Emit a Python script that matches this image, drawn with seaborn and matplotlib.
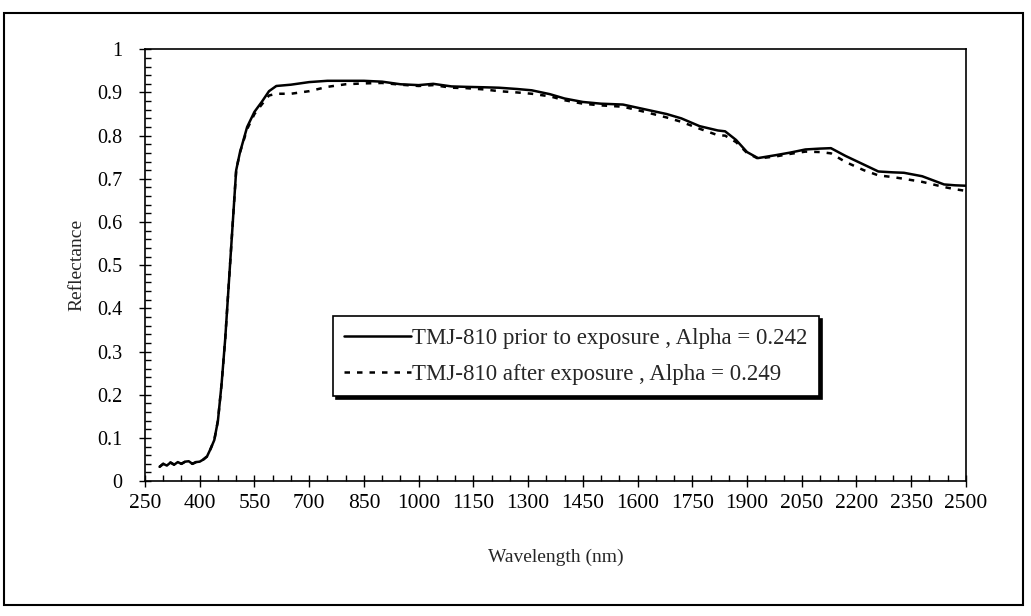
import numpy as np
import pandas as pd
import matplotlib
matplotlib.use("Agg")
import matplotlib.pyplot as plt
from matplotlib.patches import Rectangle
from matplotlib.ticker import MultipleLocator, FuncFormatter
import seaborn as sns

# Datos
wavelength = [290, 300, 310, 320, 330, 340, 350, 360, 370, 380, 390, 400, 410, 420,
              430, 440, 450, 460, 470, 480, 490, 500, 510, 530, 550, 570, 590, 610,
              650, 700, 750, 800, 850, 900, 950, 1000, 1040, 1090, 1130, 1180, 1220,
              1270, 1310, 1360, 1400, 1450, 1500, 1560, 1620, 1680, 1720, 1770, 1820,
              1840, 1870, 1900, 1930, 1980, 2020, 2060, 2100, 2130, 2170, 2220, 2260,
              2300, 2330, 2380, 2440, 2470, 2500]

refl_prior = [0.033, 0.040, 0.036, 0.043, 0.038, 0.044, 0.040, 0.045, 0.046, 0.040,
              0.044, 0.045, 0.050, 0.057, 0.075, 0.095, 0.140, 0.225, 0.330, 0.460,
              0.590, 0.720, 0.760, 0.820, 0.855, 0.878, 0.903, 0.915, 0.918, 0.924,
              0.927, 0.927, 0.927, 0.925, 0.919, 0.917, 0.920, 0.914, 0.913, 0.912,
              0.911, 0.908, 0.905, 0.896, 0.886, 0.878, 0.874, 0.872, 0.861, 0.850,
              0.840, 0.822, 0.812, 0.810, 0.790, 0.762, 0.748, 0.755, 0.761, 0.768,
              0.770, 0.771, 0.753, 0.733, 0.717, 0.715, 0.714, 0.706, 0.687, 0.685,
              0.684]

refl_after = [0.033, 0.040, 0.036, 0.043, 0.038, 0.044, 0.040, 0.045, 0.046, 0.040,
              0.044, 0.045, 0.050, 0.057, 0.075, 0.095, 0.140, 0.225, 0.330, 0.460,
              0.590, 0.720, 0.760, 0.815, 0.850, 0.872, 0.893, 0.897, 0.897, 0.903,
              0.913, 0.919, 0.921, 0.922, 0.918, 0.915, 0.917, 0.911, 0.910, 0.907,
              0.903, 0.900, 0.897, 0.891, 0.882, 0.874, 0.870, 0.867, 0.855, 0.842,
              0.832, 0.816, 0.801, 0.800, 0.785, 0.760, 0.747, 0.752, 0.758, 0.763,
              0.762, 0.759, 0.739, 0.720, 0.708, 0.704, 0.700, 0.693, 0.681, 0.676,
              0.672]

labels = ["TMJ-810 prior to exposure , Alpha = 0.242",
          "TMJ-810 after exposure , Alpha = 0.249"]

x_ticks = list(range(250, 2501, 150))

sns.set_style("white")
plt.rcParams['font.family'] = ['Liberation Serif', 'DejaVu Serif']
plt.rcParams['font.size'] = 14

fig = plt.figure(figsize=(10.31, 6.16), dpi=100)
ax = fig.add_axes([0.1406, 0.219, 0.7963, 0.701])

sns.lineplot(x=wavelength, y=refl_prior, ax=ax, color='black', linewidth=1.8,
             label=labels[0])
sns.lineplot(x=wavelength, y=refl_after, ax=ax, color='black', linewidth=1.8,
             linestyle=(0, (2.2, 2.8)), label=labels[1])

ax.set_xlim(250, 2500)
ax.set_ylim(0, 1)
ax.set_xticks(x_ticks)
ax.xaxis.set_minor_locator(MultipleLocator(50))
ax.yaxis.set_major_locator(MultipleLocator(0.1))
ax.yaxis.set_minor_locator(MultipleLocator(0.02))
ax.yaxis.set_major_formatter(FuncFormatter(lambda v, p: f"{v:g}"))

ax.tick_params(which='major', direction='inout', length=8, width=1, colors='black',
               bottom=True, left=True, top=False, right=False)
ax.tick_params(axis='x', which='major', labelsize=15.5, pad=5)
ax.tick_params(axis='y', which='major', labelsize=14.5, pad=12)
ax.tick_params(which='minor', direction='in', length=4, width=1, colors='black',
               bottom=True, left=True, top=False, right=False)

for s in ax.spines.values():
    s.set_color('black')
    s.set_linewidth(1.2)

ax.set_xlabel("Wavelength (nm)", fontsize=14, labelpad=26)
ax.set_ylabel("Reflectance", fontsize=14, labelpad=9)

leg = ax.legend(loc='upper left', bbox_to_anchor=(0.229, 0.382), fontsize=16.5,
                frameon=True, fancybox=False, handlelength=2.9, handletextpad=0.05,
                labelspacing=0.65, borderpad=0.5, borderaxespad=0,
                shadow={'color': 'black', 'alpha': 1})
leg.get_frame().set_edgecolor('black')
leg.get_frame().set_linewidth(1.2)
leg.get_frame().set_alpha(1)

# Marco exterior de la figura
fig.patches.append(Rectangle((0.004, 0.018), 0.988, 0.961, transform=fig.transFigure,
                             fill=False, edgecolor='black', linewidth=1.5))

fig.savefig("out.png", dpi=100)
plt.close(fig)
